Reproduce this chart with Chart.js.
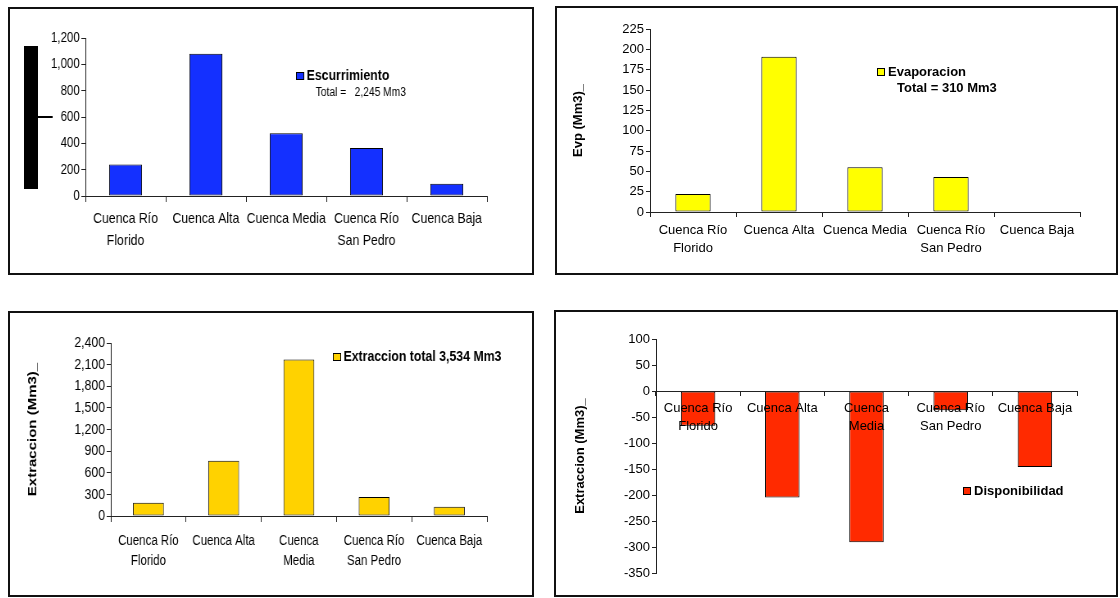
<!DOCTYPE html>
<html>
<head>
<meta charset="utf-8">
<script src="https://cdn.jsdelivr.net/npm/chart.js@4.4.1/dist/chart.umd.min.js"></script>
<style>
  html, body { margin: 0; padding: 0; background: #fff; }
  body { width: 1120px; height: 598px; position: relative; overflow: hidden; }
  .frame { position: absolute; border: 2px solid #111; box-sizing: border-box; overflow: hidden; }
  .frame canvas { display: block; }
  /* los paneles de la izquierda vienen comprimidos en horizontal */
  .narrow { transform: scaleX(0.8195); transform-origin: 0 0; }
</style>
</head>
<body>
<div class="frame" style="left:8px;top:7px;width:526px;height:268px"><canvas id="c1" class="narrow" width="637" height="264"></canvas></div>
<div class="frame" style="left:555px;top:6px;width:563px;height:269px"><canvas id="c2" width="559" height="265"></canvas></div>
<div class="frame" style="left:8px;top:311px;width:526px;height:286px"><canvas id="c3" class="narrow" width="637" height="282"></canvas></div>
<div class="frame" style="left:554px;top:310px;width:564px;height:287px"><canvas id="c4" width="560" height="283"></canvas></div>

<script>
// categorias (dos variantes de corte de linea, como en el original)
const cuencasA = [['Cuenca Río', 'Florido'], 'Cuenca Alta', 'Cuenca Media', ['Cuenca Río', 'San Pedro'], 'Cuenca Baja'];
const cuencasB = [['Cuenca Río', 'Florido'], 'Cuenca Alta', ['Cuenca', 'Media'], ['Cuenca Río', 'San Pedro'], 'Cuenca Baja'];

// valores (Mm3)
const escurrimiento = [240, 1080, 477, 364, 93];
const evaporacion = [22, 191, 55, 43, 0];
const extraccion = [185, 765, 2170, 262, 128];
const disponibilidad = [-67, -205, -291, -37, -146];

// ejes: [min, max, paso]
const ejeEsc = [0, 1200, 200];
const ejeEvp = [0, 225, 25];
const ejeExt = [0, 2400, 300];
const ejeDisp = [-350, 100, 50];

const ARIAL = "'Liberation Sans', Arial, sans-serif";

Chart.defaults.color = '#000';

// leyenda tipo Excel dibujada dentro del grafico + barra negra del panel 1
const cajaLeyenda = {
  id: 'cajaLeyenda',
  afterDraw(chart, args, o) {
    const ctx = chart.ctx;
    ctx.save();
    (o.rects || []).forEach(r => {
      ctx.fillStyle = '#000';
      ctx.fillRect(r[0], r[1], r[2], r[3]);
    });
    if (o.x !== undefined) {
      const ds = chart.data.datasets[0];
      const bw = o.bw || 8;
      ctx.fillStyle = ds.backgroundColor;
      ctx.fillRect(o.x, o.y, bw, 8);
      ctx.strokeStyle = '#000';
      ctx.lineWidth = 1;
      ctx.strokeRect(o.x + 0.5, o.y + 0.5, bw - 1, 7);
      ctx.fillStyle = '#000';
      ctx.textBaseline = 'middle';
      ctx.textAlign = 'left';
      ctx.font = o.font;
      ctx.fillText(ds.label, o.x + bw + 3, o.y + 4);
      if (o.sub) {
        ctx.font = o.subFont;
        ctx.fillText(o.sub, o.x + o.subDx, o.y + o.subDy);
      }
    }
    ctx.restore();
  }
};

function barras(id, p) {
  const zx = p.xZ || 0;
  return new Chart(document.getElementById(id), {
    type: 'bar',
    data: {
      labels: p.labels,
      datasets: [{
        label: p.label,
        data: p.data,
        backgroundColor: p.color,
        borderColor: '#000',
        borderWidth: 1,
        borderSkipped: false,
        barPercentage: 0.41,
        categoryPercentage: 1
      }]
    },
    options: {
      responsive: false,
      animation: false,
      layout: { padding: p.pad },
      plugins: {
        legend: { display: false },
        tooltip: { enabled: false },
        cajaLeyenda: p.leyenda
      },
      scales: {
        x: {
          position: p.xPos || 'bottom',
          grid: { drawOnChartArea: false, offset: true, tickLength: p.xTick, color: '#222' },
          border: { color: '#222', z: zx },
          ticks: { font: p.xFont, padding: p.xPad, maxRotation: 0, autoSkip: false, color: '#000', z: zx },
          afterFit: s => { if (p.xH) s.height = p.xH; }
        },
        y: {
          min: p.eje[0],
          max: p.eje[1],
          ticks: { stepSize: p.eje[2], font: p.yFont, padding: 2, color: '#000' },
          grid: { drawOnChartArea: false, tickLength: p.yTick || 4, color: '#222' },
          border: { color: '#222' },
          title: p.yTitle
            ? { display: true, text: p.yTitle, padding: 0, color: '#000', font: { family: ARIAL, size: p.yTitleSize || 13, weight: 'bold' } }
            : { display: false },
          afterFit: s => { s.width = p.yW; }
        }
      }
    },
    plugins: [cajaLeyenda]
  });
}

window.addEventListener('load', () => {
  // panel 1 (lienzo ancho 637 comprimido a 522)
  barras('c1', {
    labels: cuencasA, label: 'Escurrimiento', data: escurrimiento, color: '#1430ff', eje: ejeEsc,
    pad: { left: 0, top: 29, right: 55, bottom: 0 }, yW: 92, xH: 77,
    xFont: { family: ARIAL, size: 15, lineHeight: 1.47 }, xTick: 6, xPad: 6,
    yFont: { family: ARIAL, size: 14 }, yTick: 5,
    leyenda: {
      x: 349, y: 63, bw: 10, font: 'bold 15px ' + ARIAL,
      sub: 'Total =   2,245 Mm3', subFont: '12.5px ' + ARIAL, subDx: 24, subDy: 21,
      rects: [[17, 37, 17, 143], [34, 107, 18, 2]]
    }
  });

  barras('c2', {
    labels: cuencasA, label: 'Evaporacion', data: evaporacion, color: '#ffff00', eje: ejeEvp,
    pad: { left: 14, top: 21, right: 36, bottom: 0 }, yW: 79, xH: 61,
    xFont: { family: ARIAL, size: 13, lineHeight: 1.4 }, xTick: 5, xPad: 4,
    yFont: { family: ARIAL, size: 13 }, yTitle: 'Evp (Mm3)_',
    leyenda: {
      x: 320, y: 60, font: 'bold 13px ' + ARIAL,
      sub: 'Total = 310 Mm3', subFont: 'bold 13px ' + ARIAL, subDx: 20, subDy: 20
    }
  });

  // panel 3 (lienzo ancho 637 comprimido a 522)
  barras('c3', {
    labels: cuencasB, label: 'Extraccion total 3,534 Mm3', data: extraccion, color: '#ffd200', eje: ejeExt,
    pad: { left: 19, top: 30, right: 55, bottom: 0 }, yW: 104, xH: 79,
    xFont: { family: ARIAL, size: 14, lineHeight: 1.43 }, xTick: 6, xPad: 9,
    yFont: { family: ARIAL, size: 15 }, yTick: 5, yTitle: 'Extraccion (Mm3)_', yTitleSize: 15,
    leyenda: { x: 394, y: 40, bw: 10, font: 'bold 15px ' + ARIAL }
  });

  // panel 4: eje de categorias sobre el cero, etiquetas por encima de las barras
  barras('c4', {
    labels: cuencasB, label: 'Disponibilidad', data: disponibilidad, color: '#ff2a00', eje: ejeDisp,
    pad: { left: 17, top: 27, right: 39, bottom: 22 }, yW: 83,
    xPos: { y: 0 }, xZ: 1,
    xFont: { family: ARIAL, size: 13, lineHeight: 1.4 }, xTick: 4, xPad: 4,
    yFont: { family: ARIAL, size: 13 }, yTitle: 'Extraccion (Mm3)_',
    leyenda: { x: 407, y: 175, font: 'bold 13px ' + ARIAL }
  });
});
</script>
</body>
</html>
